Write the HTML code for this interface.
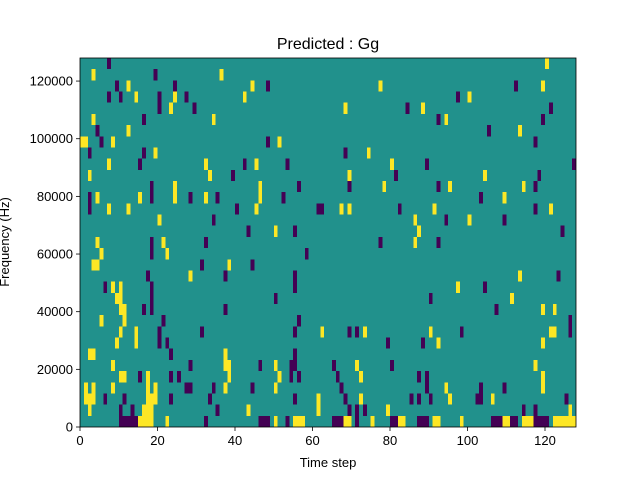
<!DOCTYPE html>
<html><head><meta charset="utf-8"><style>
html,body{margin:0;padding:0;background:#fff;}
svg{display:block;font-family:"Liberation Sans","DejaVu Sans",sans-serif;}
</style></head><body>
<svg id="chart" width="640" height="480" viewBox="0 0 640 480" xmlns="http://www.w3.org/2000/svg">
<rect x="0" y="0" width="640" height="480" fill="#fff"/>
<text x="328" y="49" text-anchor="middle" font-size="16">Predicted : Gg</text>
<g id="cells"></g>
<g id="axes"></g>
<text x="328" y="467" text-anchor="middle" font-size="13">Time step</text>
<text transform="translate(9,242) rotate(-90)" text-anchor="middle" font-size="13">Frequency (Hz)</text>
</svg>
<script>
const nTime = 128;
const nBins = 33;
const freqMax = 128000;
const xTicks = [0,20,40,60,80,100,120];
const yTicks = [0,20000,40000,60000,80000,100000,120000];
// time indices of low-value cells, one list per frequency row (top row first)
const lowRows = [
[7],[19],[9,24,48,112],[7,10,20,27,97],[20,29,84,121],[16,92,119],[4,105],[5,48,117],
[2,16,68],[15,42,53,89,127],[39,81,118],[18,56,69,92,117],[2,18,28,35,52,103],[2,40,61,62,82,117],
[34,94,109],[43,55,124],[18,32,77,92],[18,58],[31,44],[17,37,55,123],[6,18,55,104],[18,50,90],
[16,18,37,107],[21,56,126],[20,31,55,69,71,98,126],[20,22,79,88],[23,55],[28,46,54,55,65,80],
[15,23,25,54,56,66,87,89],[27,28,34,44,67,89,103,109],[6,11,23,33,55,68,85,87,90,102,103,125],
[10,13,35,69,71,73,114,117],
[10,11,12,13,14,32,46,47,48,53,65,66,67,71,80,81,87,88,89,106,107,108,111,112,117,118,119,120]
];
// time indices of high-value cells, one list per frequency row (top row first)
const highRows = [
[120],[3,36],[12,44,77,119],[14,24,42,100],[23,68,88],[3,34,94],[12,113],[0,1,8,51],
[19,74],[7,32,45,80],[2,33,69,104],[24,46,78,95,114],[4,15,24,32,46,109],[7,12,45,67,69,91,121],
[20,86,100],[50,87],[4,21,86],[5,22],[3,4,38],[28,113],[8,10,97],[9,10,111],[10,11,119,122],
[5,11],[10,14,62,73,90,121,122],[9,14,92,119],[2,3,37],[8,37,38,50,71,117],[10,11,17,38,51,72,119],
[1,3,8,17,19,37,50,94,119],[1,2,3,17,18,19,61,72,95,106],[2,16,17,18,43,61,79,126],
[15,16,17,18,22,50,55,56,57,68,69,75,82,83,91,92,98,109,110,114,115,116,122,123,124,125,126,127]
];
const NS="http://www.w3.org/2000/svg";
const L=80,R=576,T=58,B=427;
const xs=t=>L+(R-L)*t/nTime;
const ys=f=>B-(B-T)*f/freqMax;
const binH=freqMax/nBins;
const cells=document.getElementById('cells');
function rect(x,y,w,h,fill,name){
  const r=document.createElementNS(NS,'rect');
  r.setAttribute('x',x);r.setAttribute('y',y);r.setAttribute('width',w);r.setAttribute('height',h);
  r.setAttribute('fill',fill);r.setAttribute('shape-rendering','crispEdges');
  
  
  return r;
}
cells.appendChild(rect(L,T,R-L,B-T,'#21918c','heatmap-background'));
function drawRows(rows,color,name){
  rows.forEach((list,i)=>{
    const bin=nBins-1-i;
    const y0=ys((bin+1)*binH), y1=ys(bin*binH);
    list.forEach(t=>{
      const x0=xs(t), x1=xs(t+1);
      cells.appendChild(rect(x0,y0,x1-x0,y1-y0,color,name));
    });
  });
}
drawRows(lowRows,'#440154','low-cell');
drawRows(highRows,'#fde725','high-cell');
const axes=document.getElementById('axes');
const frame=document.createElementNS(NS,'rect');
frame.setAttribute('x',L);frame.setAttribute('y',T);frame.setAttribute('width',R-L);frame.setAttribute('height',B-T);
frame.setAttribute('fill','none');frame.setAttribute('stroke','#000');frame.setAttribute('stroke-width','0.8');


axes.appendChild(frame);
function line(x1,y1,x2,y2,name){
  const l=document.createElementNS(NS,'line');
  l.setAttribute('x1',x1);l.setAttribute('y1',y1);l.setAttribute('x2',x2);l.setAttribute('y2',y2);
  l.setAttribute('stroke','#000');l.setAttribute('stroke-width','0.8');
  
  
  axes.appendChild(l);
}
function text(x,y,s,anchor,name){
  const t=document.createElementNS(NS,'text');
  t.setAttribute('x',x);t.setAttribute('y',y);t.setAttribute('text-anchor',anchor);t.setAttribute('font-size','13');
  t.textContent=s;
  
  
  axes.appendChild(t);
}
xTicks.forEach(v=>{const x=xs(v);line(x,B,x,B+4,'x-tick');text(x,B+18,String(v),'middle','x-tick-label');});
yTicks.forEach(v=>{const y=ys(v);line(L-4,y,L,y,'y-tick');text(L-7,y+4.5,String(v),'end','y-tick-label');});
</script>
</body></html>
